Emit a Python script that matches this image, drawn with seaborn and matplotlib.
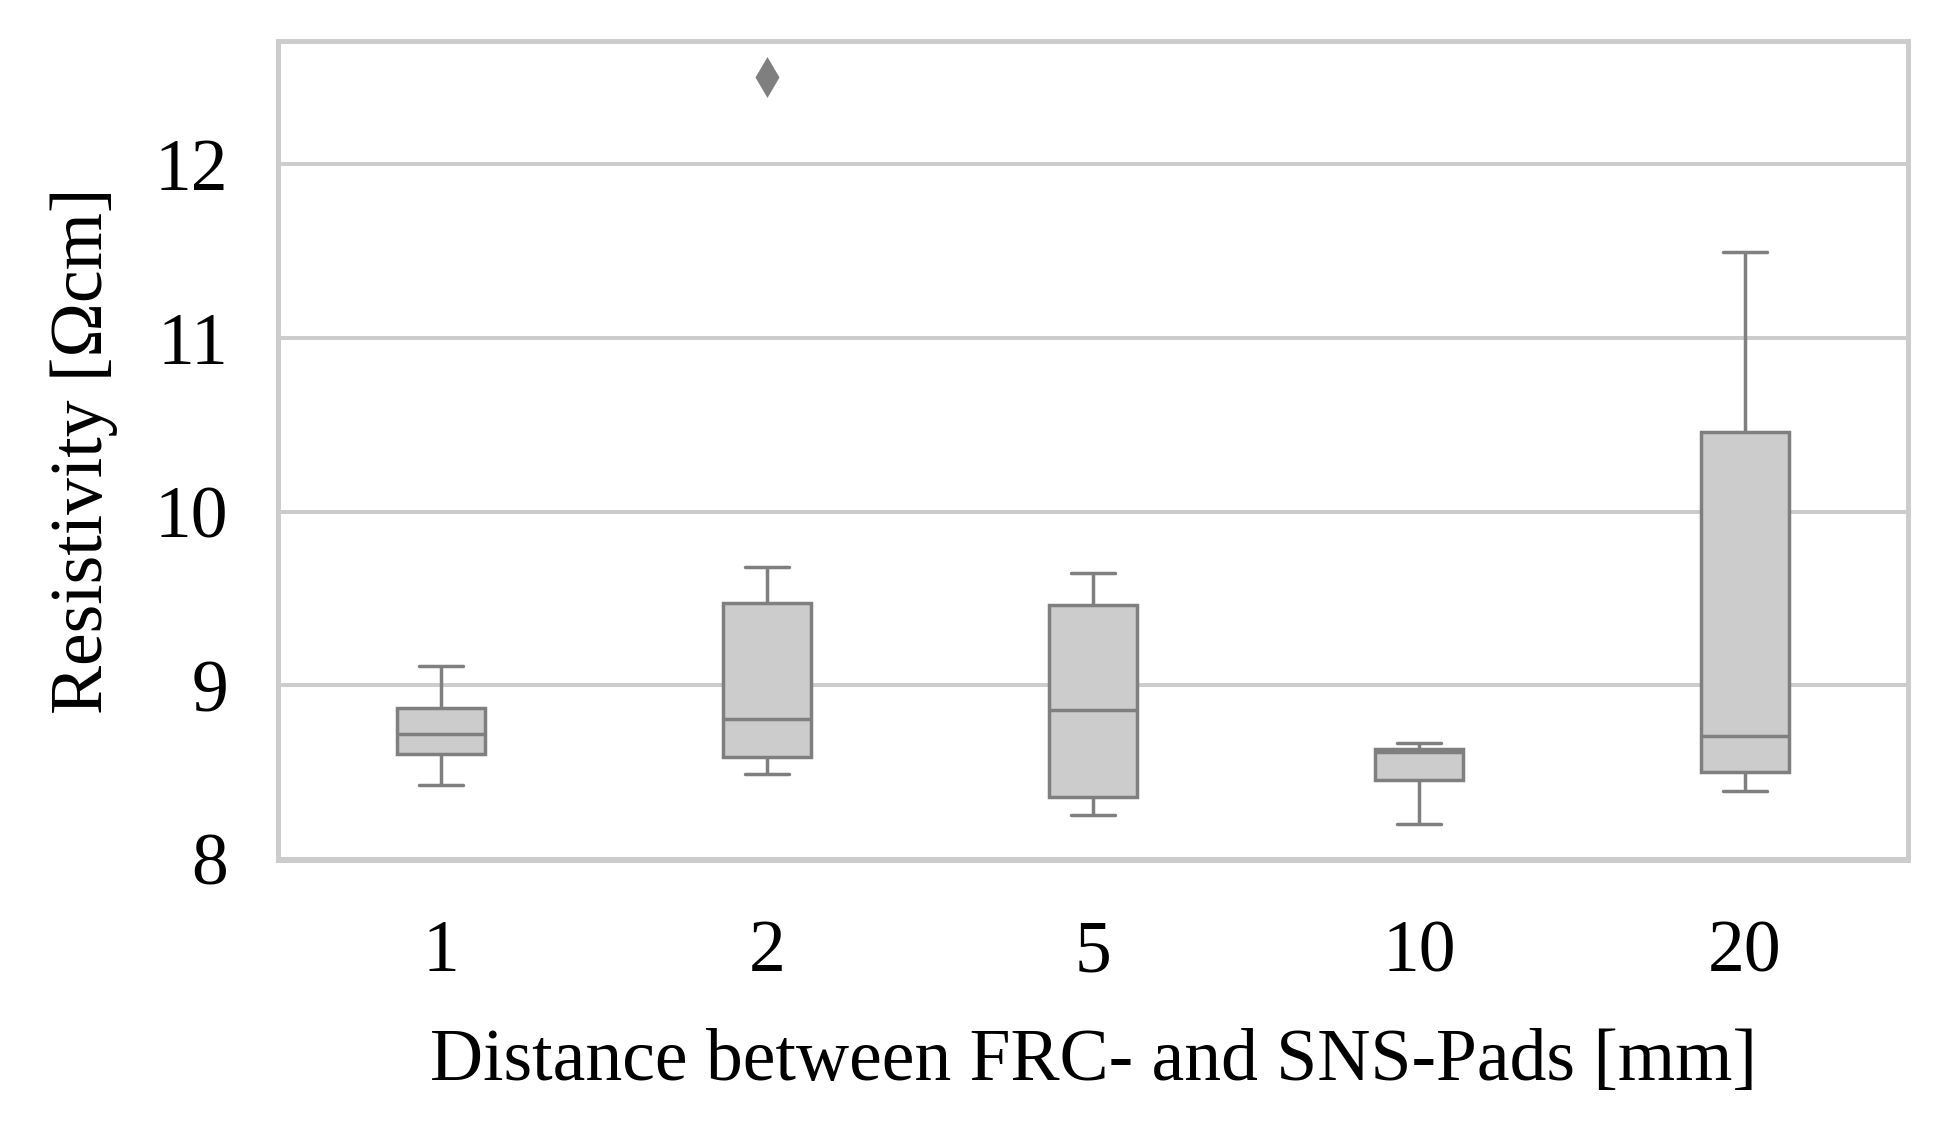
import matplotlib
matplotlib.use('Agg')
import matplotlib.pyplot as plt
import numpy as np
import pandas as pd
import seaborn as sns

# distances [mm] and resistivity readings [Ohm cm]
distances = ['1', '2', '5', '10', '20']
res_1 = [8.425, 8.605, 8.718, 8.872, 9.109]
res_2 = [8.49, 8.55, 8.59, 8.70, 8.807, 9.20, 9.475, 9.684, 12.50]
res_5 = [8.253, 8.36, 8.858, 9.462, 9.649]
res_10 = [8.20, 8.456, 8.615, 8.634, 8.667]
res_20 = [8.393, 8.50, 8.711, 10.458, 11.496]

df = pd.DataFrame({
    'dist': ['1']*len(res_1) + ['2']*len(res_2) + ['5']*len(res_5)
            + ['10']*len(res_10) + ['20']*len(res_20),
    'res': res_1 + res_2 + res_5 + res_10 + res_20,
})

sns.set_style('whitegrid')
plt.rcParams['font.family'] = ['Liberation Serif', 'DejaVu Serif']
plt.rcParams['axes.edgecolor'] = '#cccccc'
plt.rcParams['grid.color'] = '#cccccc'

fig, ax = plt.subplots(figsize=(19.45, 11.3), dpi=100)
fig.subplots_adjust(left=0.143, right=0.981, top=0.9637, bottom=0.239)

sns.boxplot(data=df, x='dist', y='res', order=distances, ax=ax,
            color='#cccccc', linecolor='#7f7f7f', linewidth=2.5,
            width=0.27, fliersize=17,
            flierprops=dict(marker='d', markerfacecolor='#7f7f7f',
                            markeredgecolor='#7f7f7f', markeredgewidth=2.5))

ax.set_ylim(7.995, 12.71)
ax.set_yticks([8, 9, 10, 11, 12])
ax.grid(axis='y', linewidth=2.9)
ax.grid(axis='x', visible=False)
for s in ax.spines.values():
    s.set_linewidth(3.6)
    s.set_color('#cccccc')
ax.tick_params(axis='both', length=16, width=2.9, color='#cccccc',
               labelsize=53, labelcolor='black')
ax.tick_params(axis='y', pad=20)
ax.tick_params(axis='x', pad=27)
ax.set_xlabel('Distance between FRC- and SNS-Pads [mm]', fontsize=53,
              labelpad=30, color='black')
ax.set_ylabel('Resistivity [Ωcm]', fontsize=53, labelpad=26, color='black')

fig.savefig('out.png', dpi=100)
